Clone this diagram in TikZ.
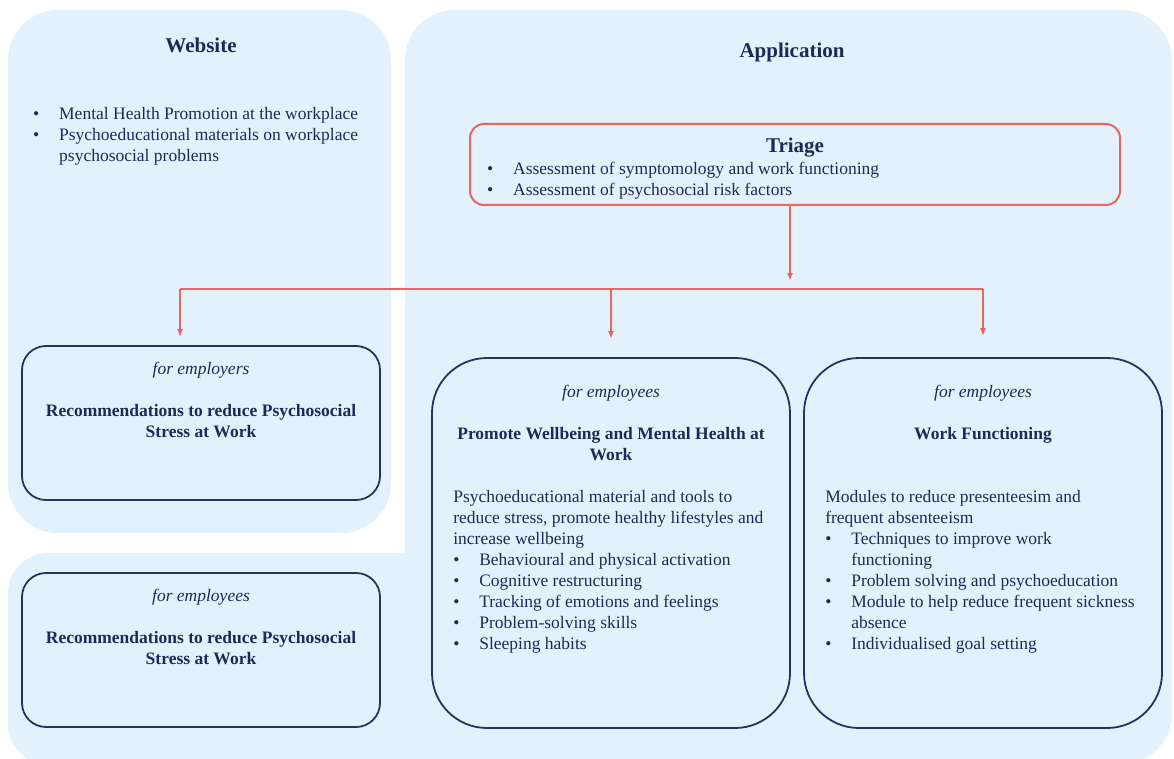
\documentclass[tikz,border=0pt]{standalone}
\usepackage{fontspec}
\setmainfont{Liberation Serif}
\usetikzlibrary{arrows.meta}
\definecolor{panelblue}{HTML}{E2F1FC}
\definecolor{navy}{HTML}{1F2957}
\definecolor{cardline}{HTML}{29325F}
\definecolor{triagered}{HTML}{EC645C}
\newcommand{\blt}{\makebox[26pt][l]{\textbullet}}
\newcommand{\ind}{\hspace*{26pt}}

\begin{document}
\begin{tikzpicture}[x=1pt,y=-1pt,
    panel/.style={fill=panelblue},
    card/.style={draw=cardline,line width=1.8pt,rounded corners=24pt,minimum width=358pt,minimum height=154pt,inner sep=0pt},
    bigcard/.style={card,rounded corners=55pt,minimum height=370pt},
    triagebox/.style={draw=triagered,line width=2pt,rounded corners=14pt,minimum width=650pt,minimum height=81pt,inner sep=0pt},
    heading/.style={font=\fontsize{21}{25}\selectfont\bfseries,text=navy,inner sep=0pt},
    who/.style={font=\fontsize{17.5}{21}\selectfont\itshape,text=navy,inner sep=0pt},
    boxtitle/.style={font=\fontsize{17.5}{21}\selectfont\bfseries,text=navy,align=center,inner sep=0pt},
    body/.style={font=\fontsize{17.5}{21}\selectfont,text=navy,align=left,inner sep=0pt},
    link/.style={draw=triagered,line width=2pt,-{Latex[length=8pt,width=6pt]}},
  ]
  \useasboundingbox (0,0) rectangle (1174,759);
  % background panels
  \fill[panel,rounded corners=50pt] (8,10) rectangle (391,533);
  \fill[panel,rounded corners=50pt] (405,10) rectangle (1172,764);
  \fill[panel,rounded corners=40pt] (8,553) rectangle (470,764);

  % website
  \node[heading,anchor=base] (website) at (201,53) {Website};
  \node[body,anchor=north west] (websitelist) at (33,107) {\blt Mental Health Promotion at the workplace\\
    \blt Psychoeducational materials on workplace\\
    \ind psychosocial problems};

  % application
  \node[heading,anchor=base] (application) at (792,58) {Application};
  \node[triagebox] (triage) at (795,164.5) {};
  \node[heading,anchor=base] (triagetitle) at (795,153) {Triage};
  \node[body,anchor=north west] (triagelist) at (487,162) {\blt Assessment of symptomology and work functioning\\
    \blt Assessment of psychosocial risk factors};

  % cards
  \node[card] (employers) at (201,423) {};
  \node[card] (employees) at (201,650) {};
  \node[bigcard] (promote) at (611,543) {};
  \node[bigcard] (work) at (983,543) {};

  \node[who,anchor=base] (employers-who) at ([yshift=-29pt]employers.north) {for employers};
  \node[boxtitle,anchor=north] (employers-title) at ([yshift=-59pt]employers.north) {Recommendations to reduce Psychosocial\\Stress at Work};

  \node[who,anchor=base] (employees-who) at ([yshift=-29pt]employees.north) {for employees};
  \node[boxtitle,anchor=north] (employees-title) at ([yshift=-59pt]employees.north) {Recommendations to reduce Psychosocial\\Stress at Work};

  \node[who,anchor=base] (promote-who) at ([yshift=-40pt]promote.north) {for employees};
  \node[boxtitle,anchor=north] (promote-title) at ([yshift=-70pt]promote.north) {Promote Wellbeing and Mental Health at\\Work};
  \node[body,anchor=north west] (promote-text) at ([xshift=22pt,yshift=-133pt]promote.north west) {Psychoeducational material and tools to\\
    reduce stress, promote healthy lifestyles and\\
    increase wellbeing\\
    \blt Behavioural and physical activation\\
    \blt Cognitive restructuring\\
    \blt Tracking of emotions and feelings\\
    \blt Problem-solving skills\\
    \blt Sleeping habits};

  \node[who,anchor=base] (work-who) at ([yshift=-40pt]work.north) {for employees};
  \node[boxtitle,anchor=north] (work-title) at ([yshift=-70pt]work.north) {Work Functioning};
  \node[body,anchor=north west] (work-text) at ([xshift=22pt,yshift=-133pt]work.north west) {Modules to reduce presenteesim and\\
    frequent absenteeism\\
    \blt Techniques to improve work\\
    \ind functioning\\
    \blt Problem solving and psychoeducation\\
    \blt Module to help reduce frequent sickness\\
    \ind absence\\
    \blt Individualised goal setting};

  % connectors
  \coordinate (fork) at (790,289);
  \coordinate (forkL) at (180,289);
  \coordinate (forkM) at (611,289);
  \coordinate (forkR) at (983,289);
  \draw[link,shorten >=8pt] (triage.south -| fork) -- (fork);
  \draw[triagered,line width=2pt] (forkL) -- (forkR);
  \foreach \c/\tgt/\gap in {forkL/employers/8,forkM/promote/18,forkR/work/21}
    \draw[link,shorten >=\gap pt] (\c) -- (\c |- \tgt.north);
\end{tikzpicture}
\end{document}
